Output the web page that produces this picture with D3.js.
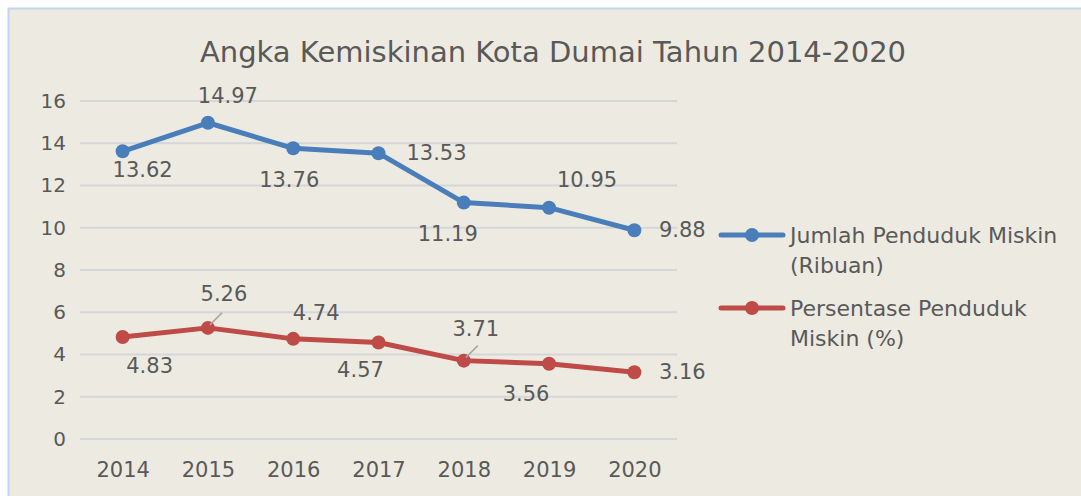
<!DOCTYPE html>
<html lang="id">
<head>
    <meta charset="UTF-8">
    <title>Angka Kemiskinan Kota Dumai</title>
    <style>
        body { margin: 0; background: #ffffff; }
        svg text { font-family: "DejaVu Sans", sans-serif; fill: #595959; }
    </style>
</head>
<body>
    <svg id="chart" width="1081" height="496"></svg>

    <script src="https://d3js.org/d3.v7.min.js"></script>
    <script>
        // data
        const years = ["2014", "2015", "2016", "2017", "2018", "2019", "2020"];
        const jumlahMiskin = [13.62, 14.97, 13.76, 13.53, 11.19, 10.95, 9.88];
        const persenMiskin = [4.83, 5.26, 4.74, 4.57, 3.71, 3.56, 3.16];
        const yTicks = [0, 2, 4, 6, 8, 10, 12, 14, 16];
        const seriesNames = [
            ["Jumlah Penduduk Miskin", "(Ribuan)"],
            ["Persentase Penduduk", "Miskin (%)"]
        ];

        // label placement (pixel offsets from the point, label centre)
        const jumlahLabelOffset = [[20, 19], [20, -27], [-4, 32], [58, 0], [-16, 31], [38, -28], [48, 0]];
        const persenLabelOffset = [[27, 29], [16, -34], [23, -26], [-18, 28], [12, -32], [-23, 30], [48, 0]];
        const persenLeader = [false, true, false, false, true, false, false];

        const blue = "#4A7EBB", red = "#BE4B48";

        const svg = d3.select("#chart");

        // chart area background
        svg.append("rect")
            .attr("x", 8.5).attr("y", 8.5)
            .attr("width", 1090).attr("height", 500)
            .attr("fill", "#EDEBE1")
            .attr("stroke", "#C3D5EE")
            .attr("stroke-width", 2);

        svg.append("text")
            .attr("x", 553).attr("y", 62)
            .attr("text-anchor", "middle")
            .style("font-size", "29px")
            .text("Angka Kemiskinan Kota Dumai Tahun 2014-2020");

        const x = d3.scalePoint().domain(years).range([80, 677]).padding(0.5);
        const y = d3.scaleLinear().domain([0, 16]).range([439, 101]);

        // gridlines
        svg.append("g")
            .selectAll("line")
            .data(yTicks)
            .enter().append("line")
            .attr("x1", 80).attr("x2", 677)
            .attr("y1", d => y(d)).attr("y2", d => y(d))
            .attr("stroke", "#D5D6DA")
            .attr("stroke-width", 2);

        // y axis labels
        const yAxis = svg.append("g")
            .attr("transform", "translate(66,0)")
            .call(d3.axisLeft(y).tickValues(yTicks).tickSize(0).tickPadding(0));
        yAxis.select(".domain").remove();
        yAxis.selectAll("text").style("font-size", "20px").attr("fill", "#595959");

        // x axis labels
        const xAxis = svg.append("g")
            .attr("transform", "translate(0,462)")
            .call(d3.axisBottom(x).tickSize(0).tickPadding(0));
        xAxis.select(".domain").remove();
        xAxis.selectAll("text").style("font-size", "21px").attr("fill", "#595959");

        function drawSeries(values, color, offsets, leaders) {
            const line = d3.line()
                .x((d, i) => x(years[i]))
                .y(d => y(d));

            svg.append("path")
                .datum(values)
                .attr("d", line)
                .attr("fill", "none")
                .attr("stroke", color)
                .attr("stroke-width", 5)
                .attr("stroke-linejoin", "round");

            svg.append("g")
                .selectAll("circle")
                .data(values)
                .enter().append("circle")
                .attr("cx", (d, i) => x(years[i]))
                .attr("cy", d => y(d))
                .attr("r", 7)
                .attr("fill", color);

            if (leaders) {
                svg.append("g")
                    .selectAll("line")
                    .data(values.map((v, i) => i).filter(i => leaders[i]))
                    .enter().append("line")
                    .attr("x1", i => x(years[i]) + 2)
                    .attr("y1", i => y(values[i]) - 3)
                    .attr("x2", i => x(years[i]) + 14)
                    .attr("y2", i => y(values[i]) - 15)
                    .attr("stroke", "#A6A6A6")
                    .attr("stroke-width", 1.5);
            }

            svg.append("g")
                .selectAll("text")
                .data(values)
                .enter().append("text")
                .attr("x", (d, i) => x(years[i]) + offsets[i][0])
                .attr("y", (d, i) => y(d) + offsets[i][1])
                .attr("text-anchor", "middle")
                .attr("dominant-baseline", "central")
                .style("font-size", "21px")
                .text(d => d.toFixed(2));
        }

        drawSeries(jumlahMiskin, blue, jumlahLabelOffset, null);
        drawSeries(persenMiskin, red, persenLabelOffset, persenLeader);

        // legend
        const legend = svg.append("g");
        [blue, red].forEach((color, k) => {
            const ly = k === 0 ? 235 : 308;
            legend.append("line")
                .attr("x1", 721).attr("x2", 783)
                .attr("y1", ly).attr("y2", ly)
                .attr("stroke", color).attr("stroke-width", 5)
                .attr("stroke-linecap", "round");
            legend.append("circle")
                .attr("cx", 752).attr("cy", ly).attr("r", 7).attr("fill", color);
            seriesNames[k].forEach((t, j) => {
                legend.append("text")
                    .attr("x", 790).attr("y", ly + j * 30)
                    .attr("dominant-baseline", "central")
                    .style("font-size", "22px")
                    .text(t);
            });
        });
    </script>
</body>
</html>
